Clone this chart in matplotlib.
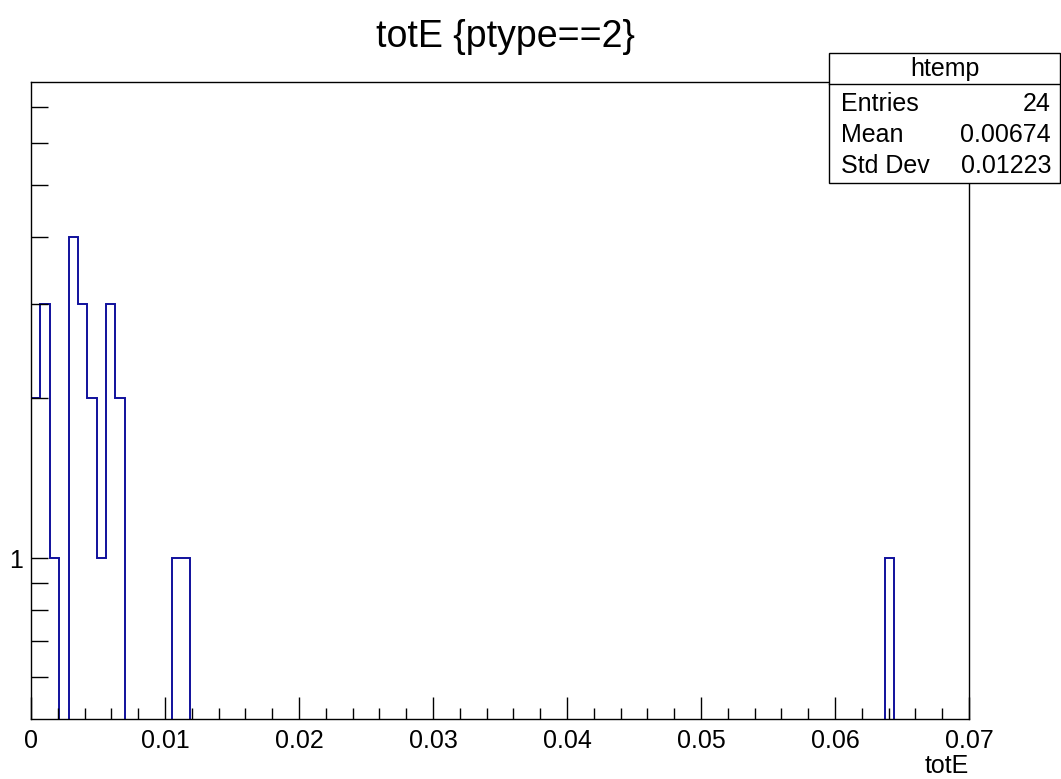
import numpy as np
import matplotlib.pyplot as plt
from matplotlib.ticker import FixedLocator, NullFormatter
from matplotlib.patches import Rectangle
from matplotlib.lines import Line2D

plt.rcParams['font.family'] = ['Liberation Sans', 'DejaVu Sans']

# histogram htemp: 100 bins over [0, 0.07], only non-empty bins listed
n_bins = 100
x_range = (0.0, 0.07)
bin_index = [0, 1, 2, 4, 5, 6, 7, 8, 9, 15, 16, 91]
bin_count = [2, 3, 1, 4, 3, 2, 1, 3, 2, 1, 1, 1]

title = "totE {ptype==2}"
x_label = "totE"
stats_name = "htemp"
stats_rows = [("Entries", "24"), ("Mean", "0.00674"), ("Std Dev", "0.01223")]

x_ticks = [0, 0.01, 0.02, 0.03, 0.04, 0.05, 0.06, 0.07]
x_tick_labels = ["0", "0.01", "0.02", "0.03", "0.04", "0.05", "0.06", "0.07"]
y_major = [1]
y_minor = [0.6, 0.7, 0.8, 0.9, 2, 3, 4, 5, 6, 7]

counts = np.zeros(n_bins)
counts[bin_index] = bin_count
edges = np.linspace(x_range[0], x_range[1], n_bins + 1)

W, H = 1061, 779
fig = plt.figure(figsize=(W / 100, H / 100), dpi=100)
ax = fig.add_axes([31 / W, 1 - 719 / H, (969 - 31) / W, (719 - 82) / H])

ax.set_yscale('log')
ax.stairs(counts, edges, baseline=0, color='#10109c', linewidth=1.4)
ax.set_xlim(*x_range)
ax.set_ylim(0.5, 7.8)

ax.xaxis.set_major_locator(FixedLocator(x_ticks))
ax.set_xticklabels(x_tick_labels)
ax.xaxis.set_minor_locator(FixedLocator(np.arange(0, 0.0701, 0.002)))
ax.yaxis.set_major_locator(FixedLocator(y_major))
ax.set_yticklabels(["1"])
ax.yaxis.set_minor_locator(FixedLocator(y_minor))
ax.yaxis.set_minor_formatter(NullFormatter())

ax.tick_params(axis='x', which='both', direction='in', top=False, labelsize=18, pad=7)
ax.tick_params(axis='x', which='major', length=16, width=1)
ax.tick_params(axis='x', which='minor', length=8, width=1)
ax.tick_params(axis='y', which='both', direction='in', right=False, labelsize=18, pad=6)
ax.tick_params(axis='y', which='major', length=12, width=1)
ax.tick_params(axis='y', which='minor', length=12, width=1)
for s in ax.spines.values():
    s.set_linewidth(1)

fig.text(505 / W, 1 - 37 / H, title, ha='center', va='center', fontsize=27)
fig.text(969 / W, 1 - 766 / H, x_label, ha='right', va='center', fontsize=18)

# stats box
bx0, bx1, by0, by1, bsep = 829, 1060, 53, 183, 84
fig.patches.append(Rectangle((bx0 / W, 1 - by1 / H), (bx1 - bx0) / W, (by1 - by0) / H,
                             transform=fig.transFigure, facecolor='white',
                             edgecolor='black', linewidth=1, zorder=5))
fig.lines.append(Line2D([bx0 / W, bx1 / W], [1 - bsep / H, 1 - bsep / H],
                        transform=fig.transFigure, color='black', linewidth=1, zorder=6))
fig.text((bx0 + bx1) / 2 / W, 1 - 69 / H, stats_name, ha='center', va='center',
         fontsize=18, zorder=7)
row_y = [104, 135, 166]
for (k, v), yy in zip(stats_rows, row_y):
    fig.text(841 / W, 1 - yy / H, k, ha='left', va='center', fontsize=18, zorder=7)
    fig.text(1051 / W, 1 - yy / H, v, ha='right', va='center', fontsize=18, zorder=7)

fig.savefig('out.png', dpi=100)
